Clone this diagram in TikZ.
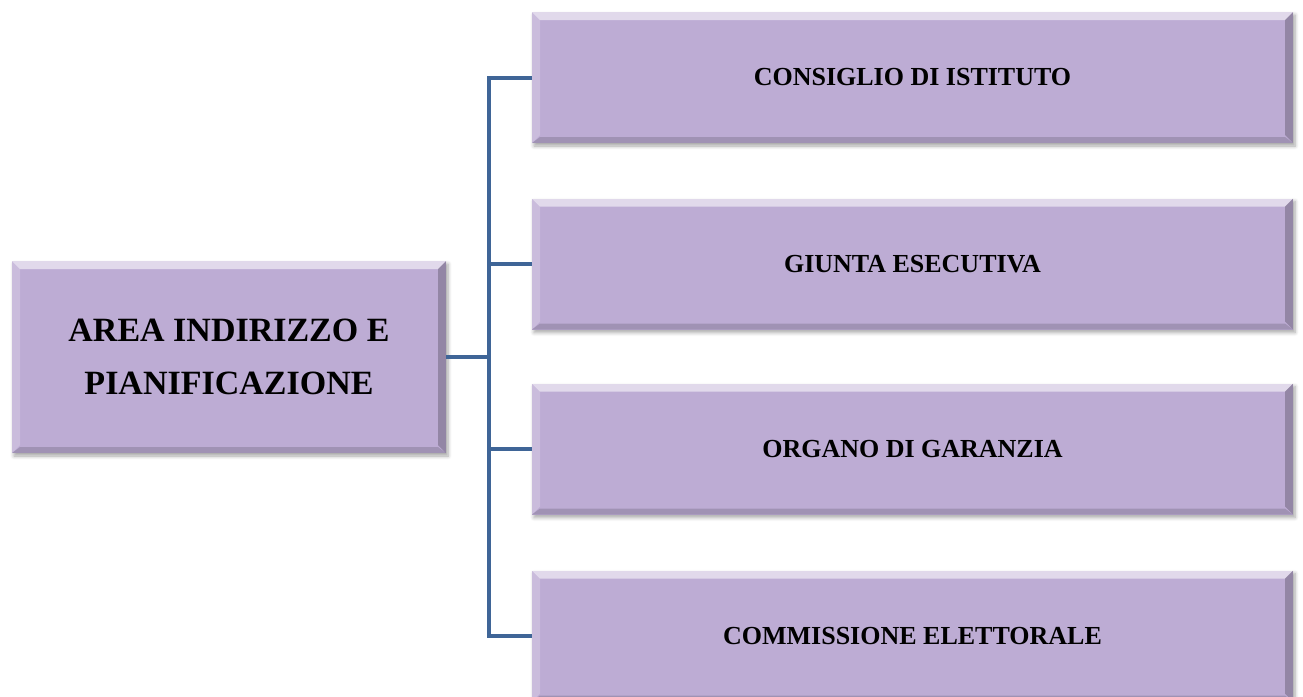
\documentclass[tikz,border=0pt]{standalone}
\usepackage{fontspec}
\setmainfont{Liberation Serif}
\usetikzlibrary{shadows.blur}

\definecolor{lilla}{RGB}{189,172,212}
\definecolor{linea}{RGB}{63,101,151}

\tikzset{
	casella/.style={rectangle, fill=lilla, inner sep=0pt, align=center,
		font=\bfseries\fontsize{13}{16}\selectfont,
		minimum width=380.5pt, minimum height=65.5pt,
		blur shadow={shadow xshift=1pt, shadow yshift=-1.5pt, shadow blur steps=6, shadow opacity=35},
		path picture={
			% bordo chiaro in alto e a sinistra
			\fill[white, opacity=.55] (path picture bounding box.north west) -- (path picture bounding box.north east)
				-- ([shift={(-4pt,-4pt)}]path picture bounding box.north east) -- ([shift={(4pt,-4pt)}]path picture bounding box.north west) -- cycle;
			\fill[white, opacity=.2] (path picture bounding box.north west) -- ([shift={(4pt,-4pt)}]path picture bounding box.north west)
				-- ([shift={(4pt,4pt)}]path picture bounding box.south west) -- (path picture bounding box.south west) -- cycle;
			% bordo scuro a destra e in basso
			\fill[black, opacity=.22] (path picture bounding box.north east) -- (path picture bounding box.south east)
				-- ([shift={(-4pt,4pt)}]path picture bounding box.south east) -- ([shift={(-4pt,-4pt)}]path picture bounding box.north east) -- cycle;
			\fill[black, opacity=.15] (path picture bounding box.south west) -- (path picture bounding box.south east)
				-- ([shift={(-4pt,3pt)}]path picture bounding box.south east) -- ([shift={(4pt,3pt)}]path picture bounding box.south west) -- cycle;
		}},
	area/.style={casella, minimum width=217pt, minimum height=96pt,
		font=\bfseries\fontsize{17}{26.5}\selectfont},
	collega/.style={draw=linea, line width=2pt},
}

\begin{document}
\begin{tikzpicture}[x=0.5pt, y=-0.5pt]
	\useasboundingbox (0,0) rectangle (1303,697);

	% casella principale
	\node[area] (indirizzo) at (229,357) {AREA INDIRIZZO E\\PIANIFICAZIONE};

	% organi
	\node[casella] (consiglio) at (912.5,77.5) {CONSIGLIO DI ISTITUTO};
	\node[casella] (giunta) at (912.5,264) {GIUNTA ESECUTIVA};
	\node[casella] (garanzia) at (912.5,449) {ORGANO DI GARANZIA};
	\node[casella] (commissione) at (912.5,636) {COMMISSIONE ELETTORALE};

	% collegamenti
	\coordinate (tronco) at (489,357);
	\draw[collega] (indirizzo.east) -- (tronco);
	\draw[collega] (tronco) |- (consiglio.west);
	\draw[collega] (tronco) |- (giunta.west);
	\draw[collega] (tronco) |- (garanzia.west);
	\draw[collega] (tronco) |- (commissione.west);

\end{tikzpicture}
\end{document}
